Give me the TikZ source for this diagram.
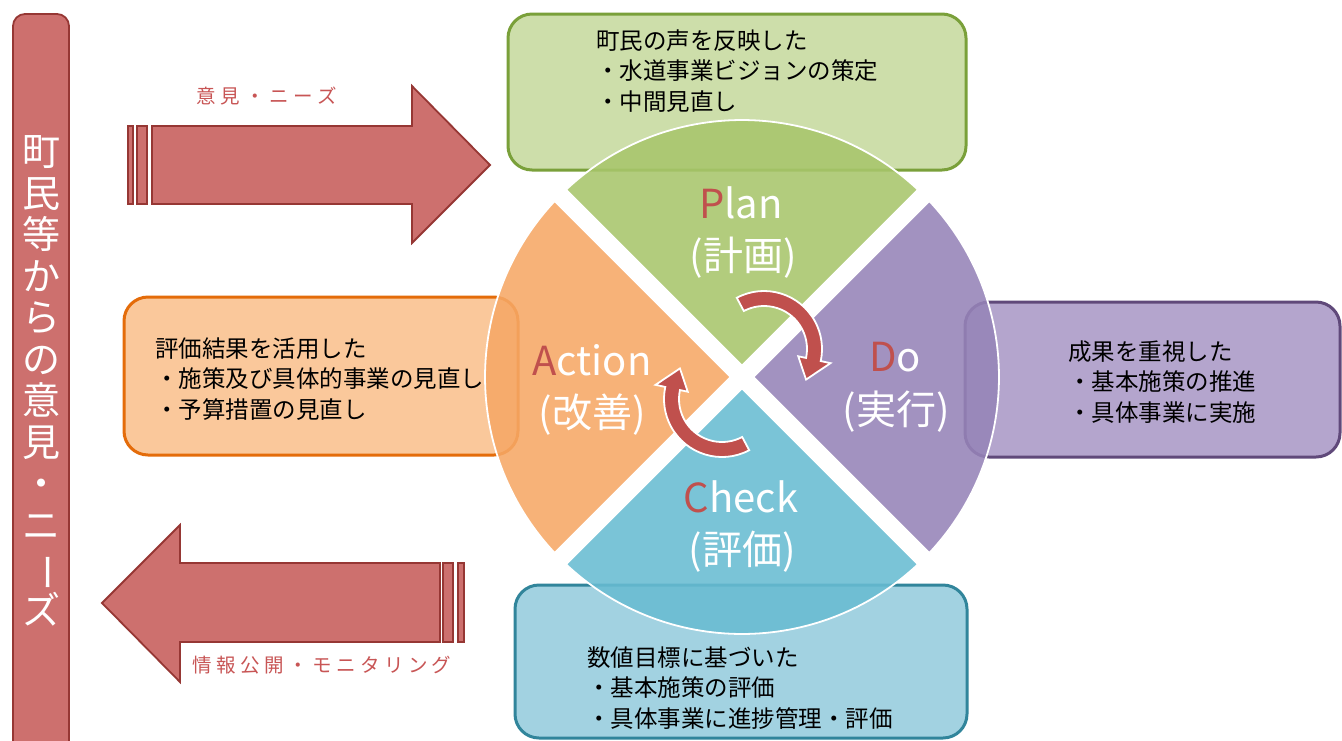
\documentclass[tikz,border=0pt]{standalone}
\usepackage{fontspec}
\setmainfont{Noto Sans CJK JP}
\usetikzlibrary{calc}
\definecolor{redA}{RGB}{205,112,110}
\definecolor{redB}{RGB}{150,55,52}
\definecolor{redT}{RGB}{192,80,77}
\definecolor{redL}{RGB}{200,85,85}
\definecolor{gFill}{RGB}{205,222,170}
\definecolor{gLine}{RGB}{122,160,58}
\definecolor{oFill}{RGB}{250,200,155}
\definecolor{oLine}{RGB}{228,108,10}
\definecolor{pFill}{RGB}{180,165,205}
\definecolor{pLine}{RGB}{96,73,122}
\definecolor{bFill}{RGB}{162,210,225}
\definecolor{bLine}{RGB}{49,133,155}
\definecolor{sPlan}{RGB}{168,198,108}
\definecolor{sDo}{RGB}{150,132,184}
\definecolor{sCheck}{RGB}{104,188,210}
\definecolor{sAct}{RGB}{246,168,102}
\begin{document}
\begin{tikzpicture}[x=1pt,y=-1pt,
  box/.style={rounded corners=24pt, line width=3pt},
  sector/.style={fill opacity=0.88, draw=white, line width=1.8pt},
  bigarrow/.style={fill=redA, draw=redB, line width=1.8pt},
  cyc/.style={fill=redT, draw=white, line width=1.8pt},
  boxtext/.style={inner sep=0pt, anchor=west, align=left, font=\fontsize{23.5}{30.5}\selectfont},
  sectext/.style={inner sep=0pt, text=white, font=\fontsize{40}{48}\selectfont},
  arrlabel/.style={inner sep=0pt, text=redL, font=\fontsize{19.5}{19.5}\selectfont}]
\useasboundingbox (0,0) rectangle (1342,740);
\fill[white] (0,0) rectangle (1342,740);

% left bar
\draw[bigarrow, rounded corners=12pt] (13,14) rectangle (69,770);
\node[inner sep=0pt, align=center, text=white, font=\fontsize{38}{41.5}\selectfont] (bar) at (42,381)
  {町\\民\\等\\か\\ら\\の\\意\\見\\・\\ニ\\\rotatebox[origin=c]{-90}{ー}\\ズ};

% top arrow (to the right)
\draw[bigarrow] (128,126) rectangle (133,204);
\draw[bigarrow] (137,126) rectangle (147,204);
\draw[bigarrow] (152,126) -- (412,126) -- (412,86) -- (490,165) -- (412,243) -- (412,204) -- (152,204) -- cycle;
\node[arrlabel] (lab1) at (267,96) {\makebox[141pt][s]{意\hfil 見\hfil ・\hfil ニ\hfil ー\hfil ズ}};

% bottom arrow (to the left)
\draw[bigarrow] (443,563) rectangle (453,642);
\draw[bigarrow] (458,563) rectangle (464,642);
\draw[bigarrow] (440,563) -- (180,563) -- (180,525) -- (102,603) -- (180,682) -- (180,642) -- (440,642) -- cycle;
\node[arrlabel] (lab2) at (322,665) {\makebox[259pt][s]{情\hfil 報\hfil 公\hfil 開\hfil ・\hfil モ\hfil ニ\hfil タ\hfil リ\hfil ン\hfil グ}};

% boxes
\draw[box, fill=gFill, draw=gLine] (508,14) rectangle (966,170);
\draw[box, fill=oFill, draw=oLine] (124,297) rectangle (518,455);
\draw[box, fill=pFill, draw=pLine] (965,302) rectangle (1340,457);
\draw[box, fill=bFill, draw=bLine] (515,585) rectangle (967,738);

% sectors
\coordinate (C) at (742,377);
\path[sector, fill=sPlan] ($(C)+(-90:11.3)$) -- ($(C)+(-133.2:257)$) arc[start angle=-133.2, end angle=-46.8, radius=257] -- cycle;
\path[sector, fill=sDo] ($(C)+(0:11.3)$) -- ($(C)+(-43.2:257)$) arc[start angle=-43.2, end angle=43.2, radius=257] -- cycle;
\path[sector, fill=sCheck] ($(C)+(90:11.3)$) -- ($(C)+(46.8:257)$) arc[start angle=46.8, end angle=133.2, radius=257] -- cycle;
\path[sector, fill=sAct] ($(C)+(180:11.3)$) -- ($(C)+(136.8:257)$) arc[start angle=136.8, end angle=223.2, radius=257] -- cycle;

% cycle arrows
\coordinate (A1) at (764,349);
\coordinate (A2) at (722,399);
\draw[cyc] ($(A1)+(-118:58)$) arc[start angle=-118, end angle=12, radius=58]
  -- ($(A1)+(12:68)$) -- ($(A1)+(36:52)$) -- ($(A1)+(12:35)$) -- ($(A1)+(12:43)$)
  arc[start angle=12, end angle=-118, radius=43] -- cycle;
\draw[cyc] ($(A2)+(62:58)$) arc[start angle=62, end angle=192, radius=58]
  -- ($(A2)+(192:68)$) -- ($(A2)+(216:52)$) -- ($(A2)+(192:35)$) -- ($(A2)+(192:43)$)
  arc[start angle=192, end angle=62, radius=43] -- cycle;

% sector texts
\node[sectext] (planT) at (741,203) {{\color{redT}P}lan};
\node[sectext] (planJ) at (743,258) {(計画)};
\node[sectext] (doT) at (895,357) {{\color{redT}D}o};
\node[sectext] (doJ) at (896,412) {(実行)};
\node[sectext] (actT) at (592,360) {{\color{redT}A}ction};
\node[sectext] (actJ) at (592,415) {(改善)};
\node[sectext] (chkT) at (741,497) {{\color{redT}C}heck};
\node[sectext] (chkJ) at (742,552) {(評価)};

% box texts
\node[boxtext] (gT) at (596,71) {町民の声を反映した\\・水道事業ビジョンの策定\\・中間見直し};
\node[boxtext] (oT) at (155,379) {評価結果を活用した\\・施策及び具体的事業の見直し\\・予算措置の見直し};
\node[boxtext] (pT) at (1068,382) {成果を重視した\\・基本施策の推進\\・具体事業に実施};
\node[boxtext] (bT) at (587,688) {数値目標に基づいた\\・基本施策の評価\\・具体事業に進捗管理・評価};
\end{tikzpicture}
\end{document}
